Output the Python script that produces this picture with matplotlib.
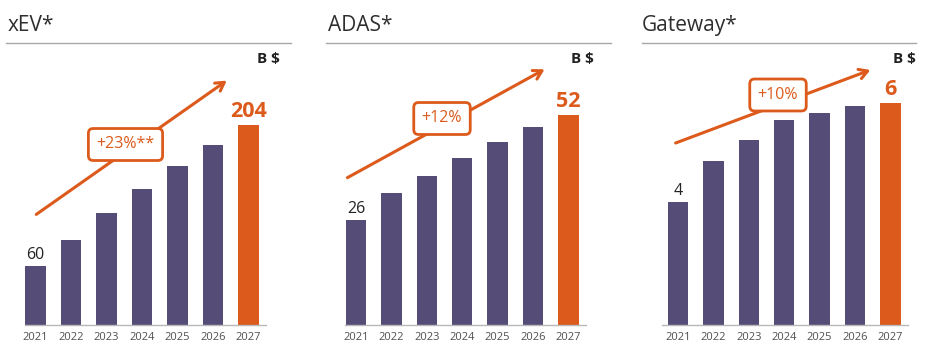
import matplotlib
matplotlib.use("Agg")
import matplotlib.pyplot as plt
from matplotlib.patches import FancyArrowPatch
from matplotlib.lines import Line2D

plt.rcParams['font.family'] = ['Open Sans', 'DejaVu Sans']

years = ['2021', '2022', '2023', '2024', '2025', '2026', '2027']
titles = ['xEV*', 'ADAS*', 'Gateway*']
xev = [60, 87, 114, 138, 162, 183, 204]
adas = [26, 32.7, 36.9, 41.2, 45.2, 49.0, 52]
gateway = [3.6, 4.8, 5.4, 6.0, 6.2, 6.4, 6.5]
first_labels = ['60', '26', '4']
last_labels = ['204', '52', '6']
cagr = ['+23%**', '+12%', '+10%']
unit = 'B $'

PURPLE = '#554d77'
ORANGE = '#dc5a1b'
W, H = 932, 354

def fx(x):
    return x / W

def fy(y):
    return 1 - y / H

fig = plt.figure(figsize=(W / 100, H / 100), dpi=100)

# layout per panel (pixels): first bar centre, bar spacing, xlim left, ymax, title x, rule x range
panels = [
    dict(vals=xev, c0=35.5, step=35.5, xl=-0.3, ymax=280, tx=8, rule=(6, 291),
         unit_x=280, arrow=((34, 216), (229, 79)), box=(125.5, 144.5)),
    dict(vals=adas, c0=356, step=35.4, xl=-0.3, ymax=68, tx=328, rule=(326, 611),
         unit_x=594, arrow=((345, 179), (547, 68)), box=(442, 118.5)),
    dict(vals=gateway, c0=678, step=35.4, xl=-0.45, ymax=8.04, tx=642, rule=(642, 916),
         unit_x=916, arrow=((673, 144), (873, 69)), box=(778, 95)),
]

bottom_px, top_px = 325, 50

for i, p in enumerate(panels):
    left = p['c0'] + p['xl'] * p['step']
    right = p['c0'] + 6.5 * p['step']
    ax = fig.add_axes([fx(left), fy(bottom_px), (right - left) / W, (bottom_px - top_px) / H])
    colors = [PURPLE] * 6 + [ORANGE]
    ax.bar(range(7), p['vals'], width=0.58, color=colors, zorder=2)
    ax.set_xlim(p['xl'], 6.5)
    ax.set_ylim(0, p['ymax'])
    ax.set_xticks(range(7))
    ax.set_xticklabels(years, fontsize=8, color='#505050')
    ax.tick_params(axis='x', length=0, pad=5)
    ax.set_yticks([])
    for s in ['top', 'left', 'right']:
        ax.spines[s].set_visible(False)
    ax.spines['bottom'].set_color('#b8b8b8')
    ax.spines['bottom'].set_linewidth(1)
    ax.patch.set_alpha(0)

    ax.annotate(first_labels[i], (0, p['vals'][0]), xytext=(0, 2), textcoords='offset points',
                ha='center', va='bottom', fontsize=11.5, color='#222222')
    ax.annotate(last_labels[i], (6, p['vals'][6]), xytext=(0, 2), textcoords='offset points',
                ha='center', va='bottom', fontsize=15.5, fontweight='bold', color=ORANGE)

    # title and rule
    fig.text(fx(p['tx']), fy(31), titles[i], fontsize=15, color='#2e2e2e', ha='left', va='baseline')
    fig.add_artist(Line2D([fx(p['rule'][0]), fx(p['rule'][1])], [fy(43), fy(43)],
                          color='#a8a8a8', lw=1, transform=fig.transFigure))
    fig.text(fx(p['unit_x']), fy(59), unit, fontsize=11, fontweight='bold', color='#222222',
             ha='right', va='center')

    # growth arrow with label
    (x1, y1), (x2, y2) = p['arrow']
    arr = FancyArrowPatch((fx(x1), fy(y1)), (fx(x2), fy(y2)), transform=fig.transFigure,
                          arrowstyle='->,head_length=6,head_width=3.5', color=ORANGE, lw=2.2,
                          mutation_scale=1, zorder=3)
    fig.add_artist(arr)
    bx, by = p['box']
    fig.text(fx(bx), fy(by), cagr[i], fontsize=11.5, color=ORANGE, ha='center', va='center',
             zorder=4,
             bbox=dict(boxstyle='round,pad=0.5,rounding_size=0.3', fc='white', ec=ORANGE, lw=2))

fig.savefig('out.png', dpi=100)
